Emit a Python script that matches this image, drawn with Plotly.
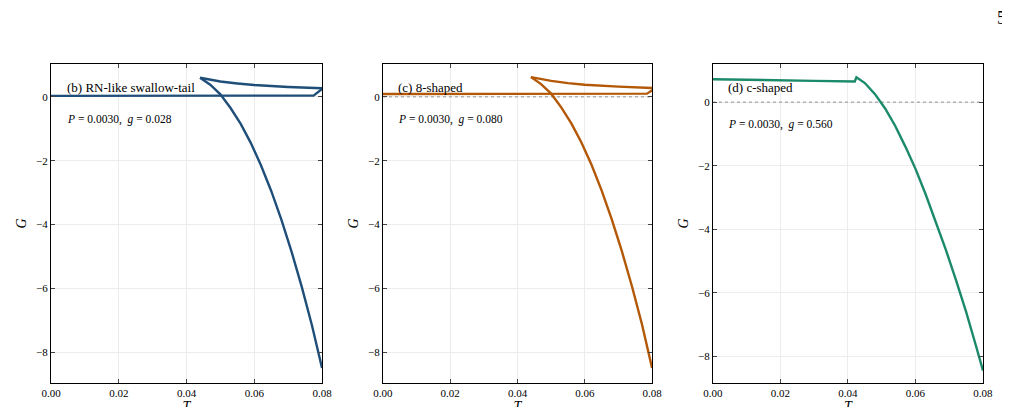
import plotly.graph_objects as go
from plotly.subplots import make_subplots

# Panel (b)
b_low_T = [0.0, 0.02, 0.04, 0.06, 0.0775, 0.0805]
b_low_G = [0.03, 0.03, 0.035, 0.038, 0.04, 0.29]
b_up_T = [0.044, 0.05, 0.055, 0.06, 0.07, 0.08, 0.081]
b_up_G = [0.6, 0.48, 0.42, 0.37, 0.31, 0.27, 0.265]
b_big_T = [0.044, 0.047, 0.050, 0.053, 0.056, 0.059, 0.062, 0.065, 0.068, 0.071, 0.074, 0.077, 0.080]
b_big_G = [0.6, 0.38, 0.08, -0.35, -0.85, -1.45, -2.15, -2.95, -3.85, -4.85, -5.95, -7.15, -8.5]
# Panel (c)
c_low_T = [0.0, 0.02, 0.04, 0.06, 0.0785, 0.0805]
c_low_G = [0.09, 0.09, 0.095, 0.1, 0.1, 0.24]
c_up_T = [0.044, 0.05, 0.055, 0.06, 0.07, 0.08, 0.081]
c_up_G = [0.62, 0.5, 0.43, 0.38, 0.32, 0.28, 0.275]
c_big_T = b_big_T
c_big_G = [0.62, 0.4, 0.1, -0.33, -0.83, -1.43, -2.13, -2.93, -3.83, -4.83, -5.93, -7.13, -8.5]
# Panel (d)
d_T = [0.0, 0.01, 0.02, 0.03, 0.042, 0.0425, 0.045, 0.048, 0.051, 0.054, 0.057, 0.060, 0.063, 0.066, 0.069, 0.072, 0.075, 0.078, 0.080]
d_G = [0.72, 0.71, 0.69, 0.67, 0.65, 0.78, 0.6, 0.25, -0.2, -0.75, -1.4, -2.1, -2.9, -3.75, -4.65, -5.6, -6.6, -7.7, -8.45]

labels = ["(b) RN-like swallow-tail", "(c) 8-shaped", "(d) c-shaped"]
params = ["<i>P</i> = 0.0030,  <i>g</i> = 0.028", "<i>P</i> = 0.0030,  <i>g</i> = 0.080", "<i>P</i> = 0.0030,  <i>g</i> = 0.560"]
colors = ["#1f4e79", "#b35806", "#1b8a6b"]
xticks = [0, 0.02, 0.04, 0.06, 0.08]
yticks = [-8, -6, -4, -2, 0]

fig = make_subplots(rows=1, cols=3, horizontal_spacing=0.0)
doms = [(0.0, 0.2908), (0.3562, 0.6449), (0.7103, 1.0)]
series = [
    [(b_low_T, b_low_G), (b_up_T, b_up_G), (b_big_T, b_big_G)],
    [(c_low_T, c_low_G), (c_up_T, c_up_G), (c_big_T, c_big_G)],
    [(d_T, d_G)],
]
yr = [[-8.97, 1.03], [-8.97, 1.03], [-8.84, 1.2]]
font = "Liberation Serif, Times New Roman, serif"
for i in range(3):
    c = i + 1
    if i > 0:
        fig.add_trace(go.Scatter(x=[0, 0.08], y=[0, 0], mode="lines",
                                 line=dict(color="#777", width=0.8, dash="dot"), showlegend=False), row=1, col=c)
    for (t, g) in series[i]:
        fig.add_trace(go.Scatter(x=t, y=g, mode="lines", line=dict(color=colors[i], width=2.4),
                                 showlegend=False), row=1, col=c)
    ax = dict(showline=True, linecolor="black", linewidth=1, mirror="ticks", ticks="inside",
              ticklen=4, showgrid=True, gridcolor="#ececec", zeroline=False,
              tickfont=dict(family=font, size=11, color="black"))
    fig.update_xaxes(range=[0, 0.08], tickvals=xticks, ticktext=["0.00", "0.02", "0.04", "0.06", "0.08"],
                     domain=list(doms[i]), title=dict(text="<i>T</i>", font=dict(family=font, size=14), standoff=2),
                     **ax, row=1, col=c)
    fig.update_yaxes(range=yr[i], tickvals=yticks, ticktext=["−8", "−6", "−4", "−2", "0"],
                     title=dict(text="<i>G</i>", font=dict(family=font, size=14), standoff=6),
                     **ax, row=1, col=c)
    xref = "x domain" if c == 1 else f"x{c} domain"
    yref = "y domain" if c == 1 else f"y{c} domain"
    fig.add_annotation(x=0.05, y=0.926, xref=xref, yref=yref, text=labels[i], showarrow=False,
                       xanchor="left", yanchor="middle", font=dict(family=font, size=13, color="black"))
    fig.add_annotation(x=0.05, y=0.826 if i < 2 else 0.81, xref=xref, yref=yref, text=params[i], showarrow=False,
                       xanchor="left", yanchor="middle", font=dict(family=font, size=11.5, color="black"))

fig.add_annotation(x=1.0, y=1.0, xref="paper", yref="paper", text="5", showarrow=False,
                   xanchor="left", yanchor="top", xshift=12, yshift=58,
                   font=dict(family=font, size=18, color="black"))
fig.update_layout(width=1010, height=407, plot_bgcolor="white", paper_bgcolor="white",
                  margin=dict(l=43, r=35, t=56, b=32, autoexpand=False), font=dict(family=font, color="black"))
fig.write_html("out.html")
